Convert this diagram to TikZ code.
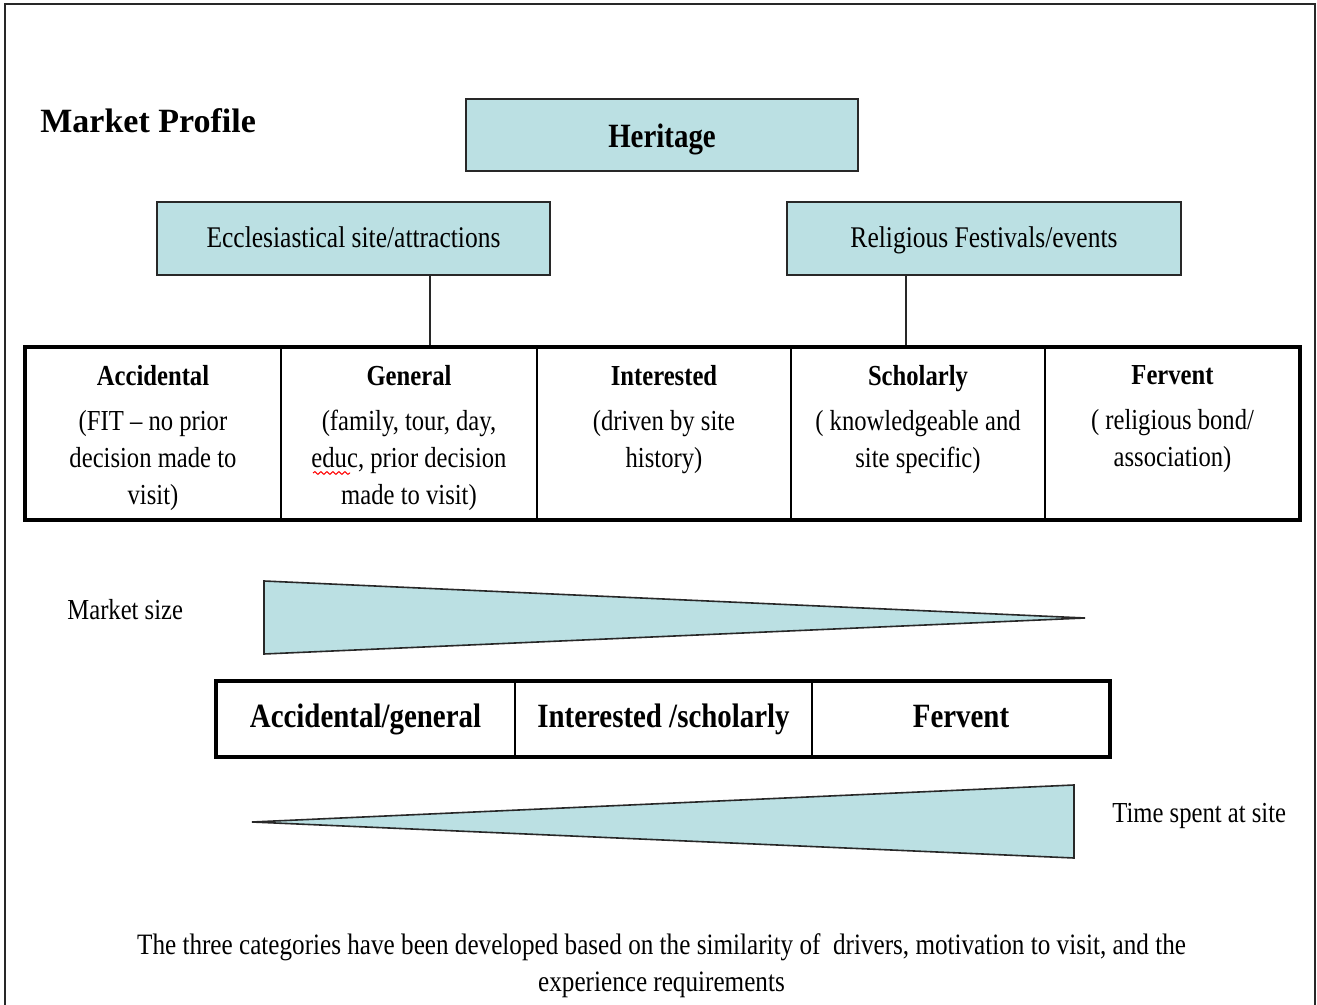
\documentclass[tikz,border=0pt]{standalone}
\usepackage{fontspec}
\setmainfont{Liberation Serif}[FakeStretch=0.85]
\newfontfamily\titlefont{Liberation Serif}
\usetikzlibrary{decorations.pathmorphing}

\definecolor{paleteal}{RGB}{187,224,227}
\definecolor{edgegray}{RGB}{40,40,40}

\tikzset{
  topbox/.style={draw=edgegray, line width=1pt, fill=paleteal, inner sep=0pt, text depth=0pt},
  celltext/.style={align=center, inner sep=0pt, anchor=north, font=\fontsize{14.5}{18.5}\selectfont},
  plain/.style={inner sep=0pt, anchor=base west, font=\fontsize{14.5}{18.5}\selectfont},
  bandtext/.style={inner sep=0pt, anchor=base, font=\bfseries\fontsize{17}{20}\selectfont},
  wedge/.style={draw=edgegray, line width=0.8pt, fill=paleteal},
  thickrule/.style={line width=2pt},
  thinrule/.style={line width=0.7pt}
}

\begin{document}
\begin{tikzpicture}[x=0.5pt, y=-0.5pt]
\useasboundingbox (0,0) rectangle (1317,1005);
\draw[edgegray, line width=1pt] (5,1005) -- (5,4) -- (1315,4) -- (1315,1005);

\node[anchor=base west, inner sep=0pt, font=\titlefont\fontsize{17}{20}\selectfont\bfseries] (title) at (40,133) {Market Profile};

\node[topbox, minimum width=196pt, minimum height=36pt, text height=12.5pt, font=\bfseries\fontsize{17}{20}\selectfont] (heritage) at (662,135.5) {Heritage};
\node[topbox, minimum width=196.5pt, minimum height=36.5pt, text height=9.5pt, font=\fontsize{15}{18}\selectfont] (eccl) at (353.5,238.5) {Ecclesiastical site/attractions};
\node[topbox, minimum width=197pt, minimum height=36.5pt, text height=9.5pt, font=\fontsize{15}{18}\selectfont] (relig) at (984,238.5) {Religious Festivals/events};

\coordinate (ecfoot) at (430,346);
\coordinate (rlfoot) at (906,346);
\draw[edgegray, line width=0.8pt] (eccl.south -| ecfoot) -- (ecfoot);
\draw[edgegray, line width=0.8pt] (relig.south -| rlfoot) -- (rlfoot);

\draw[thickrule] (25,347) rectangle (1300,520);
\foreach \x in {281,537,791,1045}
  \draw[thinrule] (\x,347) -- (\x,520);

\node[celltext] (acc) at (153,365) {\textbf{Accidental}\\[4pt](FIT – no prior\\decision made to\\visit)};
\node[celltext] (gen) at (409,365) {\textbf{General}\\[4pt](family, tour, day,\\educ, prior decision\\made to visit)};
\node[celltext] (inter) at (664,365) {\textbf{Interested}\\[4pt](driven by site\\history)};
\node[celltext] (schol) at (918,365) {\textbf{Scholarly}\\[4pt]( knowledgeable and\\site specific)};
\node[celltext] (ferv) at (1172.5,365) {\textbf{Fervent}\\[4pt]( religious bond/\\association)};
\draw[red, line width=0.5pt, decorate, decoration={snake, amplitude=0.7pt, segment length=3pt}] (313,473) -- (350,473);

\node[plain] (msize) at (67,619) {Market size};
\filldraw[wedge] (264,581) -- (264,654) -- (1085,618) -- cycle;

\draw[thickrule] (216,681) rectangle (1110,757);
\foreach \x in {515,812}
  \draw[thinrule] (\x,681) -- (\x,757);
\node[bandtext] (accgen) at (365.5,727) {Accidental/general};
\node[bandtext] (intsch) at (663.5,727) {Interested /scholarly};
\node[bandtext] (fervb) at (961,727) {Fervent};

\filldraw[wedge] (252,822) -- (1074,785) -- (1074,858) -- cycle;
\node[plain] (tspent) at (1112,822) {Time spent at site};

\node[align=center, inner sep=0pt, anchor=north, font=\fontsize{14.8}{18.5}\selectfont] (note) at (661.5,933) {The three categories have been developed based on the similarity of\ \ drivers, motivation to visit, and the\\experience requirements};
\end{tikzpicture}
\end{document}
